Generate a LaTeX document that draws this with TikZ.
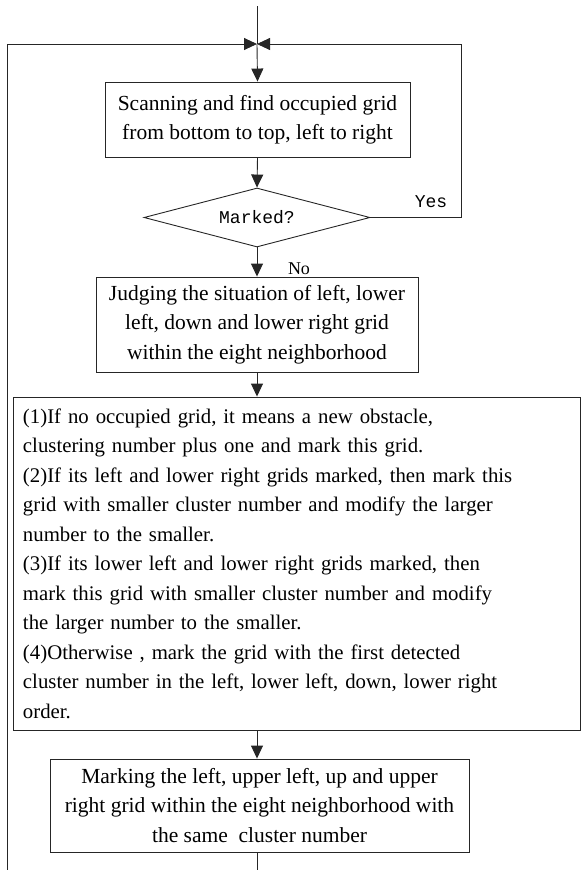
\documentclass[tikz,border=0pt]{standalone}
\usepackage{fontspec}
\setmainfont{Liberation Serif}
\newfontfamily\monofnt{Liberation Mono}
\usetikzlibrary{arrows.meta,shapes.geometric}
\begin{document}
\begin{tikzpicture}[x=1pt,y=-1pt,
  line/.style={draw=black!85,line width=0.9pt},
  arr/.style={line,-{Triangle[length=13pt,width=12pt]}},
  procbox/.style={line,rectangle,inner sep=0pt,align=center,
    font=\fontsize{21.5}{29.4}\selectfont},
  decbox/.style={line,diamond,inner sep=0pt,aspect=3.83,minimum width=226pt,minimum height=59pt,
    font=\monofnt\fontsize{18}{20}\selectfont},
  lbl/.style={inner sep=0pt}]
\useasboundingbox (0,0) rectangle (581,870);
\coordinate (top) at (257,6);
\coordinate (m) at (257,44);
\coordinate (lb) at (7,870);
\coordinate (lt) at (7,44);
\coordinate (bot) at (257,870);

\node[procbox,minimum width=305pt,minimum height=75pt] (b1) at (257.5,119.5)
  {Scanning and find occupied grid\\from bottom to top, left to right};
\node[decbox] (d) at (257,217.5) {Marked?};
\coordinate (rt) at (461,44);
\coordinate (rr) at (461,217.5);
\node[lbl,font=\monofnt\fontsize{18}{20}\selectfont] (yes) at (431,202) {Yes};
\node[lbl,font=\fontsize{18}{20}\selectfont] (no) at (299,269) {No};
\node[procbox,minimum width=322pt,minimum height=95pt] (b2) at (257,324.5)
  {Judging the situation of left, lower\\left, down and lower right grid\\within the eight neighborhood};
\node[procbox,minimum width=567pt,minimum height=333pt,text width=547pt,align=left,inner xsep=10pt,
  font=\fontsize{20.8}{29.5}\selectfont] (b3) at (296.5,563.5)
  {(1)If no occupied grid, it means a new obstacle,\\
   clustering number plus one and mark this grid.\\
   (2)If its left and lower right grids marked, then mark this\\
   grid with smaller cluster number and modify the larger\\
   number to the smaller.\\
   (3)If its lower left and lower right grids marked, then\\
   mark this grid with smaller cluster number and modify\\
   the larger number to the smaller.\\
   (4)Otherwise , mark the grid with the first detected\\
   cluster number in the left, lower left, down, lower right\\
   order.};
\node[procbox,minimum width=419pt,minimum height=93pt] (b4) at (259.5,805.5)
  {Marking the left, upper left, up and upper\\right grid within the eight neighborhood with\\the same\ \ cluster number};

\draw[line] (top) -- (m);
\draw[arr] (m) -- (b1.north);
\draw[arr] (b1.south) -- (d.north);
\draw[arr] (d.south) -- (b2.north);
\draw[arr] (b2.south) -- (b3.north -| b2.south);
\draw[arr] (b3.south -| b4.north) ++(-2.5,0) coordinate (b3s) -- (b3s |- b4.north);
\draw[line] (b4.south -| bot) -- (bot);
\draw[arr] (lb) -- (lt) -- (m);
\draw[arr] (d.east) -- (rr) -- (rt) -- (m);
\end{tikzpicture}
\end{document}
